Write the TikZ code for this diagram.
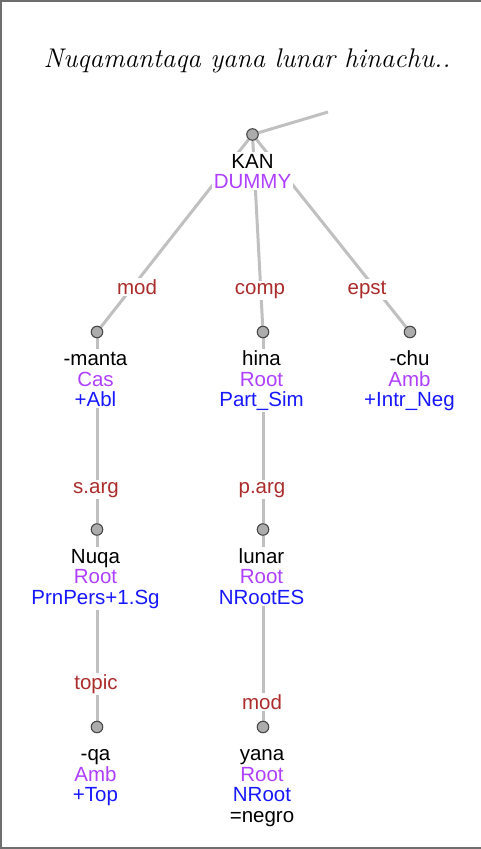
\documentclass[tikz,border=0pt]{standalone}
\usepackage{fontspec}
\newfontfamily\nodefont{Liberation Sans}
\usetikzlibrary{backgrounds}
\definecolor{catcol}{RGB}{176,64,255}
\definecolor{featcol}{RGB}{24,24,255}
\definecolor{labred}{RGB}{172,44,44}
\definecolor{edgegray}{RGB}{192,192,192}
\definecolor{dotfill}{RGB}{172,172,172}
\definecolor{dotdraw}{RGB}{72,72,72}
\definecolor{framegray}{RGB}{110,110,110}
\newcommand{\firststrut}{\rule{0pt}{15pt}}
\newcommand{\catc}[1]{\textcolor{catcol}{#1}}
\newcommand{\featc}[1]{\textcolor{featcol}{#1}}
\begin{document}
\begin{tikzpicture}[x=1pt,y=-1pt,
  dot/.style={circle, draw=dotdraw, fill=dotfill, minimum size=11.5pt, inner sep=0pt, line width=1.1pt},
  word/.style={anchor=north, fill=white, inner sep=1.5pt, align=center,
    font=\nodefont\fontsize{20.5}{20.5}\selectfont},
  lab/.style={anchor=base, fill=white, inner sep=1.5pt, text=labred,
    font=\nodefont\fontsize{20.5}{20.5}\selectfont},
  edgeline/.style={draw=edgegray, line width=3pt},
  framebar/.style={draw=framegray, line width=2pt}]
\useasboundingbox (0,0) rectangle (481,849);
% frame
\coordinate (ftl) at (1,1);
\coordinate (ftr) at (481,1);
\coordinate (fbl) at (1,848);
\coordinate (fbr) at (481,848);
\draw[framebar] (ftr) -- (ftl) -- (fbl) -- (fbr);
% title
\node[anchor=base, inner sep=0pt, font=\fontsize{27}{30}\selectfont\itshape] (title) at (247,67) {Nuqamantaqa yana lunar hinachu..};
% dots
\node[dot] (root) at (252.5,134.5) {};
\node[dot] (manta) at (97,332) {};
\node[dot] (hina) at (263,332) {};
\node[dot] (chu) at (410,332) {};
\node[dot] (nuqa) at (97,529.5) {};
\node[dot] (lunar) at (263,529.5) {};
\node[dot] (qa) at (97,727) {};
\node[dot] (yana) at (263,727) {};
\coordinate (up) at (328,112);
% word blocks
\node[word] (wroot) at (252.5,151.5) {\firststrut KAN\\\catc{DUMMY}};
\node[word] (wmanta) at (95.5,349) {\firststrut -manta\\\catc{Cas}\\\featc{+Abl}};
\node[word] (whina) at (261.5,349) {\firststrut hina\\\catc{Root}\\\featc{Part\_Sim}};
\node[word] (wchu) at (409.5,349) {\firststrut -chu\\\catc{Amb}\\\featc{+Intr\_Neg}};
\node[word] (wnuqa) at (95.5,546.5) {\firststrut Nuqa\\\catc{Root}\\\featc{PrnPers+1.Sg}};
\node[word] (wlunar) at (261.5,546.5) {\firststrut lunar\\\catc{Root}\\\featc{NRootES}};
\node[word] (wqa) at (95.5,744) {\firststrut -qa\\\catc{Amb}\\\featc{+Top}};
\node[word] (wyana) at (262,744) {\firststrut yana\\\catc{Root}\\\featc{NRoot}\\=negro};
% edges
\begin{pgfonlayer}{background}
\draw[edgeline] (root) -- (up);
\draw[edgeline] (root) -- (manta);
\draw[edgeline] (root) -- (hina);
\draw[edgeline] (root) -- (chu);
\draw[edgeline] (manta) -- (nuqa);
\draw[edgeline] (hina) -- (lunar);
\draw[edgeline] (nuqa) -- (qa);
\draw[edgeline] (lunar) -- (yana);
\end{pgfonlayer}
% edge labels
\node[lab] (lmod) at (137,294) {mod};
\node[lab] (lcomp) at (260,294) {comp};
\node[lab] (lepst) at (367,294) {epst};
\node[lab] (lsarg) at (96,493) {s.arg};
\node[lab] (lparg) at (262,493) {p.arg};
\node[lab] (ltopic) at (96,689) {topic};
\node[lab] (lmod2) at (262,709) {mod};
\end{tikzpicture}
\end{document}
